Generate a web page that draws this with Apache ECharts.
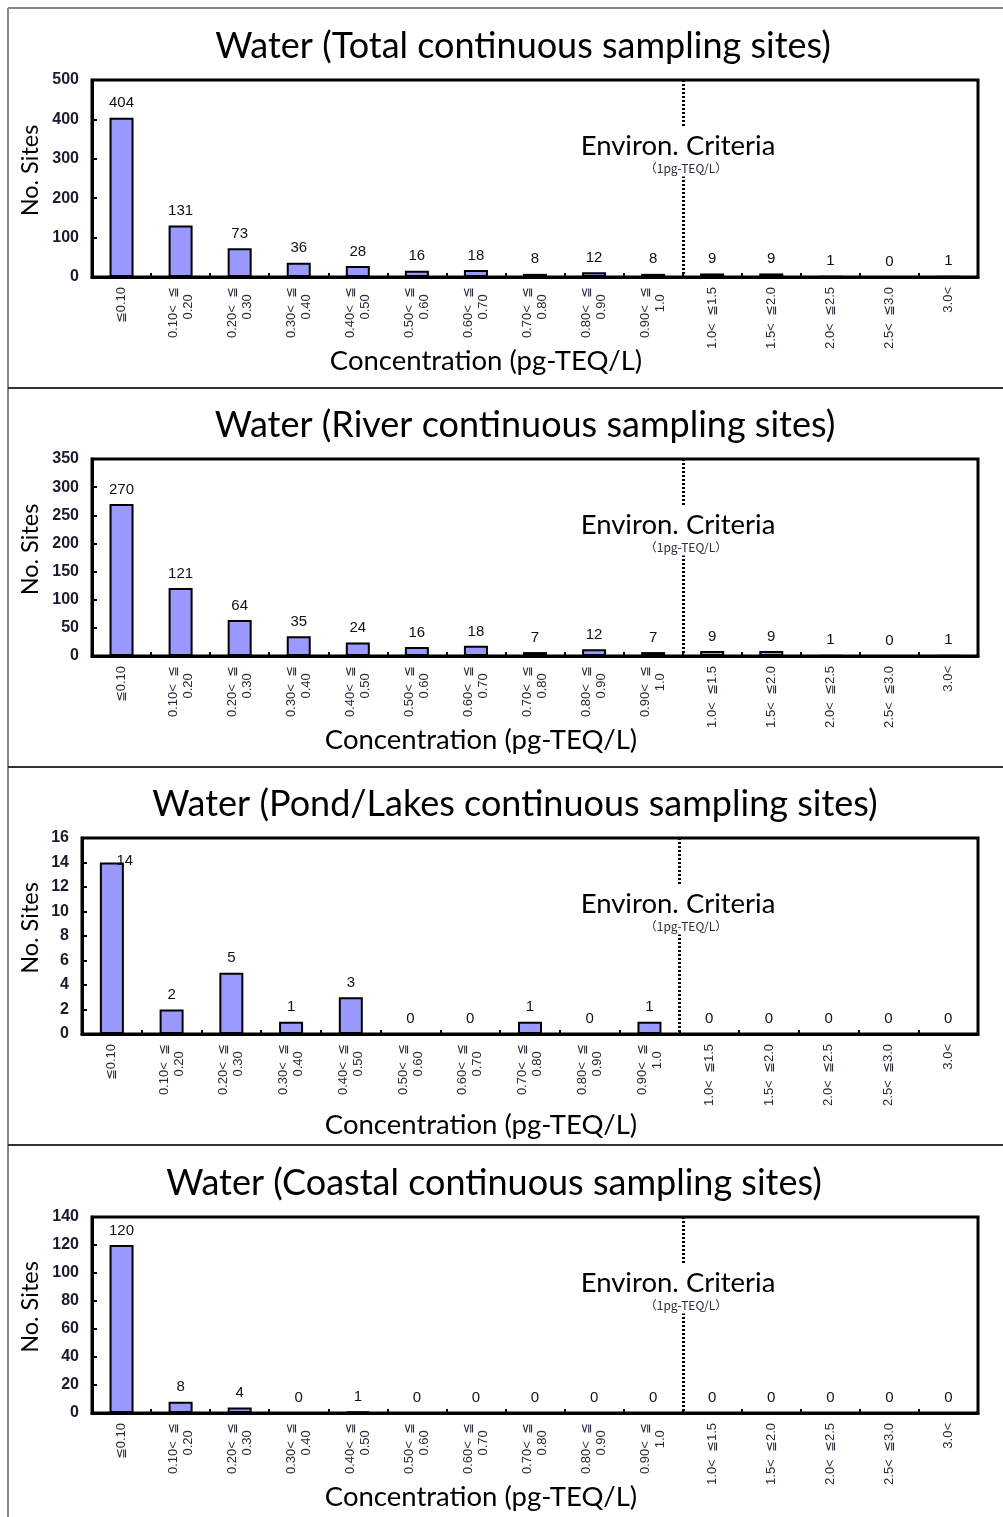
<!DOCTYPE html>
<html>
<head>
<meta charset="utf-8">
<title>Water continuous sampling sites</title>
<script src="https://cdn.jsdelivr.net/npm/echarts@6/dist/echarts.min.js"></script>
<style>
  html, body { margin: 0; padding: 0; background: #fff; }
  #chart { width: 1003px; height: 1517px; }
</style>
</head>
<body>
<div id="chart"></div>
<script>
// Concentration classes (pg-TEQ/L)
const categories = [
  '≦0.10',
  '0.10<  ≦\n0.20  ', '0.20<  ≦\n0.30  ', '0.30<  ≦\n0.40  ', '0.40<  ≦\n0.50  ',
  '0.50<  ≦\n0.60  ', '0.60<  ≦\n0.70  ', '0.70<  ≦\n0.80  ', '0.80<  ≦\n0.90  ',
  '0.90<  ≦\n1.0  ',
  '1.0<  ≦1.5', '1.5<  ≦2.0', '2.0<  ≦2.5', '2.5<  ≦3.0', '3.0<'
];

// Number of sites per class
const totalSites   = [404, 131, 73, 36, 28, 16, 18, 8, 12, 8, 9, 9, 1, 0, 1];
const riverSites   = [270, 121, 64, 35, 24, 16, 18, 7, 12, 7, 9, 9, 1, 0, 1];
const pondSites    = [14, 2, 5, 1, 3, 0, 0, 1, 0, 1, 0, 0, 0, 0, 0];
const coastalSites = [120, 8, 4, 0, 1, 0, 0, 0, 0, 0, 0, 0, 0, 0, 0];

// Panel titles and y-axis ranges
const panelTitles = [
  'Water (Total continuous sampling sites)',
  'Water (River continuous sampling sites)',
  'Water (Pond/Lakes continuous sampling sites)',
  'Water (Coastal continuous sampling sites)'
];
const panelValues = [totalSites, riverSites, pondSites, coastalSites];
const yMax      = [500, 350, 16, 140];
const yInterval = [100, 50, 2, 20];

// Environmental quality standard sits between the 0.90-1.0 and 1.0-1.5 classes
const criteriaAfter = 9;

// Layout of each panel
const layout = [
  { left: 92, top: 80,   width: 886, height: 197, titleX: 523, xNameX: 486, xNameGap: 84, peakOffset: null },
  { left: 92, top: 459,  width: 886, height: 197, titleX: 525, xNameX: 481, xNameGap: 84, peakOffset: null },
  { left: 82, top: 838,  width: 896, height: 196, titleX: 515, xNameX: 481, xNameGap: 91, peakOffset: [13, 13] },
  { left: 92, top: 1217, width: 886, height: 196, titleX: 494, xNameX: 481, xNameGap: 84, peakOffset: null }
];

const TITLE_FONT = 'Lato, "Open Sans", sans-serif';
const ARIAL = '"Liberation Sans", Arial, sans-serif';

const chart = echarts.init(document.getElementById('chart'), null, { renderer: 'canvas' });

const grids = [], xAxes = [], yAxes = [], series = [];

layout.forEach((L, i) => {
  grids.push({
    left: L.left, top: L.top, width: L.width, height: L.height,
    show: true, borderColor: '#000', borderWidth: 3, backgroundColor: 'transparent'
  });
  xAxes.push({
    type: 'category', gridIndex: i, data: categories,
    axisLine: { show: true, lineStyle: { color: '#000', width: 3 } },
    axisTick: { show: true, inside: true, length: 4, lineStyle: { color: '#000', width: 2 } },
    axisLabel: {
      rotate: 90, margin: 10, interval: 0,
      fontFamily: ARIAL, fontSize: 13, color: '#2a2a3a', lineHeight: 15
    },
    splitLine: { show: false }
  });
  yAxes.push({
    type: 'value', gridIndex: i, min: 0, max: yMax[i], interval: yInterval[i],
    axisLine: { show: true, lineStyle: { color: '#000', width: 3 } },
    axisTick: { show: true, inside: true, length: 5, lineStyle: { color: '#000', width: 2 } },
    axisLabel: { fontFamily: ARIAL, fontSize: 16, fontWeight: 'bold', color: '#1a1a30', margin: 13 },
    splitLine: { show: false }
  });
  const vals = panelValues[i];
  const peak = Math.max(...vals);
  series.push({
    type: 'bar', xAxisIndex: i, yAxisIndex: i,
    barWidth: 24,
    data: vals.map(v => {
      if (L.peakOffset && v === peak) {
        return { value: v, label: { offset: L.peakOffset } };
      }
      return v;
    }),
    itemStyle: { color: '#9999ff', borderColor: '#000', borderWidth: 2 },
    label: {
      show: true, position: 'top', distance: 7,
      fontFamily: ARIAL, fontSize: 15, color: '#111'
    },
    animation: false
  });
});

chart.setOption({
  animation: false,
  grid: grids,
  xAxis: xAxes,
  yAxis: yAxes,
  series: series
});

// Frame, titles, axis names and the criteria marker
const graphic = [];

graphic.push({ type: 'line', shape: { x1: 8, y1: 8, x2: 1003, y2: 8 }, style: { stroke: '#888', lineWidth: 2 }, silent: true });
graphic.push({ type: 'line', shape: { x1: 8, y1: 8, x2: 8, y2: 1517 }, style: { stroke: '#888', lineWidth: 2 }, silent: true });
[388, 767, 1145].forEach(y => {
  graphic.push({ type: 'line', shape: { x1: 8, y1: y, x2: 1003, y2: y }, style: { stroke: '#333', lineWidth: 2 }, silent: true });
});

layout.forEach((L, i) => {
  // panel title
  graphic.push({
    type: 'text', x: L.titleX, y: L.top - 34,
    style: { text: panelTitles[i], font: '36px ' + TITLE_FONT, fill: '#000', align: 'center', verticalAlign: 'middle' },
    silent: true
  });
  // x-axis name
  graphic.push({
    type: 'text', x: L.xNameX, y: L.top + L.height + L.xNameGap,
    style: { text: 'Concentration (pg-TEQ/L)', font: '27.5px ' + TITLE_FONT, fill: '#000', align: 'center', verticalAlign: 'middle' },
    silent: true
  });
  // y-axis name
  graphic.push({
    type: 'text', x: 30, y: L.top + L.height / 2 - 8, rotation: Math.PI / 2,
    style: { text: 'No. Sites', font: '23.5px ' + TITLE_FONT, fill: '#000', align: 'center', verticalAlign: 'middle' },
    silent: true
  });

  // criteria marker between the two classes, located through the category axis
  const xa = chart.convertToPixel({ xAxisIndex: i }, categories[criteriaAfter]);
  const xb = chart.convertToPixel({ xAxisIndex: i }, categories[criteriaAfter + 1]);
  const xm = Math.round((xa + xb) / 2) + 0.5;
  graphic.push({
    type: 'line', z: 10,
    shape: { x1: xm, y1: L.top, x2: xm, y2: L.top + L.height },
    style: { stroke: '#000', lineWidth: 3, lineDash: [2, 2] },
    silent: true
  });
  graphic.push({
    type: 'text', z: 11, x: 678, y: L.top + 66,
    style: {
      text: 'Environ. Criteria', font: '27.5px ' + TITLE_FONT, fill: '#000',
      align: 'center', verticalAlign: 'middle', backgroundColor: '#fff', padding: [6, 2, 2, 2]
    },
    silent: true
  });
  graphic.push({
    type: 'text', z: 11, x: 686, y: L.top + 88,
    style: {
      text: '（1pg-TEQ/L）', font: '12px "Noto Sans CJK JP", sans-serif', fill: '#2a2a40',
      align: 'center', verticalAlign: 'middle', backgroundColor: '#fff', padding: [1, 2, 4, 2]
    },
    silent: true
  });
});

chart.setOption({ graphic: graphic });
</script>
</body>
</html>
